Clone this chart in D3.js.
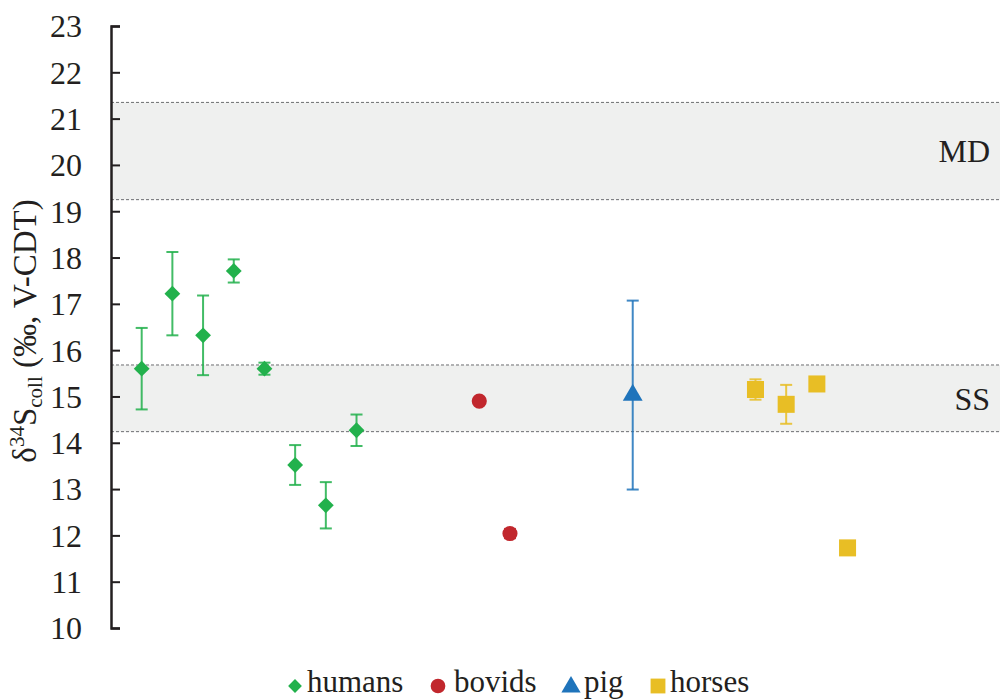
<!DOCTYPE html>
<html>
<head>
<meta charset="utf-8">
<script src="https://cdn.jsdelivr.net/npm/d3@7"></script>
<style>
  html, body { margin: 0; padding: 0; background: #fff; }
  svg { display: block; }
  text { font-family: "Liberation Serif", "Times New Roman", serif; fill: #231f20; }
</style>
</head>
<body>
<svg id="chart" width="1000" height="700"></svg>
<script>
// δ34S of bone collagen by sample, grouped by taxon
const yTicks = [10, 11, 12, 13, 14, 15, 16, 17, 18, 19, 20, 21, 22, 23];

const humanPos = [1, 2, 3, 4, 5, 6, 7, 8];
const humanVal = [15.60, 17.22, 16.32, 17.71, 15.60, 13.52, 12.65, 14.27];
const humanErr = [0.88, 0.90, 0.86, 0.25, 0.13, 0.43, 0.50, 0.34];

const bovidPos = [12, 13];
const bovidVal = [14.90, 12.04];
const bovidErr = [0, 0.10];

const pigPos = [17];
const pigVal = [15.03];
const pigErr = [2.04];

const horsePos = [21, 22, 23, 24];
const horseVal = [15.15, 14.83, 15.27, 11.73];
const horseErr = [0.22, 0.42, 0, 0];

// reference ranges
const bandNames = ["MD", "SS"];
const bandLow = [19.25, 14.24];
const bandHigh = [21.35, 15.68];

const legendNames = ["humans", "bovids", "pig", "horses"];
const colors = ["#22b14c", "#c1272d", "#1f74bb", "#e8be25"];

const FONT = '"Liberation Serif", "Times New Roman", serif';

// diamond = square turned 45°
const symbols = [d3.symbolSquare, d3.symbolCircle, d3.symbolTriangle, d3.symbolSquare];
const rotations = [45, 0, 0, 0];

const svg = d3.select("#chart");
const x = d3.scaleLinear().domain([0, 29]).range([111, 1001]);
const y = d3.scaleLinear().domain([10, 23]).range([628, 26]);

// shaded bands
const bands = svg.append("g");
bandNames.forEach((name, i) => {
  bands.append("rect")
    .attr("x", x(0)).attr("width", 1000 - x(0))
    .attr("y", y(bandHigh[i])).attr("height", y(bandLow[i]) - y(bandHigh[i]))
    .attr("fill", "#eff0ef");
  [bandLow[i], bandHigh[i]].forEach(v => {
    bands.append("line")
      .attr("x1", x(0)).attr("x2", 1000)
      .attr("y1", y(v)).attr("y2", y(v))
      .attr("stroke", "#6d6e71").attr("stroke-width", 1)
      .attr("stroke-dasharray", "3,2");
  });
  bands.append("text")
    .attr("x", 990).attr("y", (y(bandLow[i]) + y(bandHigh[i])) / 2)
    .attr("dy", "0.35em")
    .attr("text-anchor", "end")
    .attr("font-size", 32)
    .text(name);
});

// axis
const axis = svg.append("g")
  .attr("transform", `translate(${x(0)},0)`)
  .call(d3.axisLeft(y).tickValues(yTicks).tickFormat(d3.format("d"))
    .tickSizeInner(-9).tickSizeOuter(-9).tickPadding(29))
  .attr("font-family", FONT).attr("font-size", 32);
axis.select(".domain").attr("stroke", "#231f20").attr("stroke-width", 2.5);
axis.selectAll(".tick line").attr("stroke", "#231f20").attr("stroke-width", 2);
axis.selectAll(".tick text")
  .style("font-family", FONT)
  .attr("fill", "#231f20").attr("dy", "0.34em");

// axis title
const title = svg.append("text")
  .attr("transform", `translate(36,${(y(10) + y(23)) / 2 + 4}) rotate(-90)`)
  .attr("text-anchor", "middle")
  .attr("font-size", 33);
title.append("tspan").text("δ");
title.append("tspan").attr("font-size", 21).attr("dy", -12).text("34");
title.append("tspan").attr("dy", 12).text("S");
title.append("tspan").attr("font-size", 21).attr("dy", 6).text("coll");
title.append("tspan").attr("dy", -6).text(" (‰, V-CDT)");

// series
const series = [
  { pos: humanPos, val: humanVal, err: humanErr, size: 125 },
  { pos: bovidPos, val: bovidVal, err: bovidErr, size: 180 },
  { pos: pigPos, val: pigVal, err: pigErr, size: 170 },
  { pos: horsePos, val: horseVal, err: horseErr, size: 290 }
];

series.forEach((s, k) => {
  const g = svg.append("g");
  const pts = s.pos.map((p, i) => ({ p, v: s.val[i], e: s.err[i] }));
  pts.filter(d => d.e > 0).forEach(d => {
    const cx = x(d.p), t = y(d.v + d.e), b = y(d.v - d.e);
    g.append("line").attr("x1", cx).attr("x2", cx).attr("y1", t).attr("y2", b)
      .attr("stroke", colors[k]).attr("stroke-width", 2).attr("opacity", 0.85);
    [t, b].forEach(yy => g.append("line")
      .attr("x1", cx - 6).attr("x2", cx + 6).attr("y1", yy).attr("y2", yy)
      .attr("stroke", colors[k]).attr("stroke-width", 2).attr("opacity", 0.85));
  });
  g.selectAll("path.mark").data(pts).join("path")
    .attr("class", "mark")
    .attr("transform", d => `translate(${x(d.p)},${y(d.v)}) rotate(${rotations[k]})`)
    .attr("d", d3.symbol().type(symbols[k]).size(s.size))
    .attr("fill", colors[k]);
});

// legend
const legendX = [295, 438, 571, 658];
const legendTextX = [307, 454, 584, 670];
const legendSizes = [95, 170, 160, 220];
const legend = svg.append("g");
legendNames.forEach((name, i) => {
  legend.append("path")
    .attr("transform", `translate(${legendX[i]},${i === 2 ? 687 : 686}) rotate(${rotations[i]})`)
    .attr("d", d3.symbol().type(symbols[i]).size(legendSizes[i]))
    .attr("fill", colors[i]);
  legend.append("text")
    .attr("x", legendTextX[i]).attr("y", 692)
    .attr("font-size", 31)
    .text(name);
});
</script>
</body>
</html>
